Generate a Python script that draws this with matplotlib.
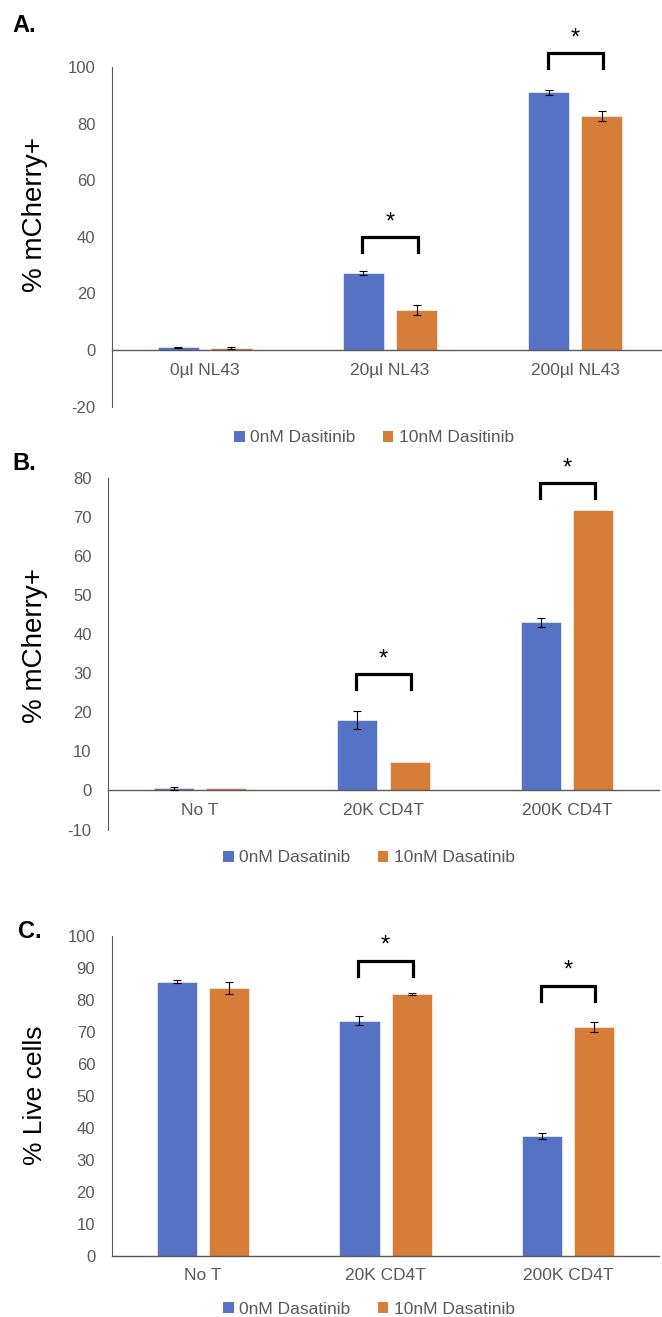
import matplotlib.pyplot as plt
from matplotlib.patches import Patch

plt.rcParams['font.family'] = ['Liberation Sans', 'DejaVu Sans']
plt.rcParams['axes.unicode_minus'] = False

# --- data -------------------------------------------------------------
cats_a = ['0\u00b5l NL43', '20\u00b5l NL43', '200\u00b5l NL43']
a_ctrl = [0.9, 27.1, 91.0]
a_ctrl_err = [0.3, 0.7, 1.0]
a_treat = [0.6, 14.2, 82.8]
a_treat_err = [0.4, 1.8, 1.8]
a_sig = [(1, 39.9), (2, 104.9)]          # (group, bracket top)
a_labels = ['0nM Dasitinib', '10nM Dasitinib']

cats_bc = ['No T', '20K CD4T', '200K CD4T']
b_ctrl = [0.5, 18.0, 43.0]
b_ctrl_err = [0.4, 2.3, 1.1]
b_treat = [0.5, 7.2, 71.6]
b_treat_err = [0.0, 0.0, 0.0]
b_sig = [(1, 29.7), (2, 78.5)]

c_ctrl = [85.7, 73.5, 37.4]
c_ctrl_err = [0.4, 1.4, 0.9]
c_treat = [83.7, 81.9, 71.6]
c_treat_err = [1.9, 0.3, 1.5]
c_sig = [(1, 92.2), (2, 84.4)]
bc_labels = ['0nM Dasatinib', '10nM Dasatinib']

BLUE = '#5572C4'
ORANGE = '#D67D3A'
GREY = '#595959'

W, H = 662, 1317
fig = plt.figure(figsize=(W / 100, H / 100), dpi=100)


def px_axes(left, right, top, bottom):
    return fig.add_axes([left / W, 1 - bottom / H, (right - left) / W, (bottom - top) / H])


def draw_panel(ax, cats, ctrl, ctrl_err, treat, treat_err, sig, ylim, step):
    x = range(len(cats))
    off, bw = 0.143, 0.22
    for s in ['top', 'right']:
        ax.spines[s].set_visible(False)
    ax.spines['left'].set_color(GREY)
    ax.spines['left'].set_linewidth(0.8)
    ax.spines['bottom'].set_position(('data', 0))
    ax.spines['bottom'].set_color(GREY)
    ax.spines['bottom'].set_linewidth(1.0)
    ax.patch.set_alpha(0)

    for vals, errs, sgn, col in [(ctrl, ctrl_err, -1, BLUE), (treat, treat_err, 1, ORANGE)]:
        xs = [i + sgn * off for i in x]
        ax.bar(xs, vals, width=bw, color=col, edgecolor='white', linewidth=0.4, zorder=2)
        for xi, v, e in zip(xs, vals, errs):
            if e > 0:
                ax.errorbar(xi, v, yerr=e, fmt='none', ecolor='black', elinewidth=0.8,
                            capsize=2.6, capthick=0.8, zorder=3)
    ax.set_xlim(-0.5, len(cats) - 0.5)
    ax.set_ylim(*ylim)
    ax.set_yticks(range(ylim[0], ylim[1] + 1, step))
    ax.set_xticks(list(x))
    ax.set_xticklabels(cats)
    ax.tick_params(axis='y', length=0, pad=12, labelsize=12, labelcolor=GREY)
    ax.tick_params(axis='x', length=0, pad=9, labelsize=12.5, labelcolor=GREY)

    # pixel -> data conversion for bracket legs / stars
    bb = ax.get_position()
    unit = (ylim[1] - ylim[0]) / (bb.height * H)
    for g, top in sig:
        x0, x1 = g - 0.15, g + 0.15
        ax.plot([x0, x0, x1, x1], [top - 15 * unit, top, top, top - 15 * unit],
                color='black', lw=2.3, solid_joinstyle='miter', clip_on=False, zorder=4)
        ax.text(g, top + 15 * unit, '*', ha='center', va='center', fontsize=17,
                color='black', clip_on=False)


def legend(labels, cx, cy):
    handles = [Patch(facecolor=BLUE, label=labels[0]), Patch(facecolor=ORANGE, label=labels[1])]
    fig.legend(handles=handles, loc='center', bbox_to_anchor=(cx / W, 1 - cy / H),
               ncol=2, frameon=False, fontsize=12.5, labelcolor=GREY,
               handlelength=0.6, handleheight=0.6, handletextpad=0.3, columnspacing=1.6)


# Panel A
ax_a = px_axes(112, 668, 67, 406.6)
draw_panel(ax_a, cats_a, a_ctrl, a_ctrl_err, a_treat, a_treat_err, a_sig, (-20, 100), 20)
fig.text(35 / W, 1 - 215 / H, '% mCherry+', rotation=90, ha='center', va='center', fontsize=20)
fig.text(12 / W, 1 - 26 / H, 'A.', ha='left', va='center', fontsize=17, fontweight='bold')
legend(a_labels, 374, 438)

# Panel B
ax_b = px_axes(108.3, 658.8, 477.5, 829.5)
draw_panel(ax_b, cats_bc, b_ctrl, b_ctrl_err, b_treat, b_treat_err, b_sig, (-10, 80), 10)
fig.text(35 / W, 1 - 645 / H, '% mCherry+', rotation=90, ha='center', va='center', fontsize=20)
fig.text(12 / W, 1 - 464 / H, 'B.', ha='left', va='center', fontsize=17, fontweight='bold')
legend(bc_labels, 369, 858)

# Panel C
ax_c = px_axes(111.8, 659.3, 936, 1256)
draw_panel(ax_c, cats_bc, c_ctrl, c_ctrl_err, c_treat, c_treat_err, c_sig, (0, 100), 10)
fig.text(35 / W, 1 - 1095 / H, '% Live cells', rotation=90, ha='center', va='center', fontsize=19)
fig.text(18 / W, 1 - 932 / H, 'C.', ha='left', va='center', fontsize=17, fontweight='bold')
legend(bc_labels, 369, 1309)

fig.savefig('out.png', dpi=100)
